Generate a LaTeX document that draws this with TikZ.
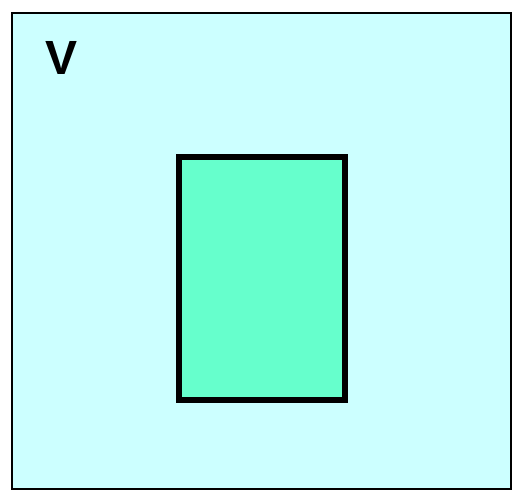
\documentclass[tikz,border=0pt]{standalone}
\usepackage{fontspec}
\setmainfont{Liberation Sans}
\usetikzlibrary{positioning}
\definecolor{SetCyan}{HTML}{CCFFFF}
\definecolor{SetMint}{HTML}{66FFCC}
\tikzset{
  set/space/.style={
    draw=black,
    line width=1.2pt,
    fill=SetCyan,
    minimum width=499pt,
    minimum height=476pt,
    inner sep=0pt
  },
  set/sub/.style={
    draw=black,
    line width=5.5pt,
    fill=SetMint,
    minimum width=166pt,
    minimum height=243pt,
    inner sep=0pt
  },
  set/label/.style={font=\fontsize{48}{48}\selectfont\bfseries, inner sep=0pt}
}
\begin{document}
\begin{tikzpicture}[x=1pt,y=-1pt]
  \useasboundingbox (0,0) rectangle (519,491);
  \node[set/space] (space) at (261.5,251) {};
  \node[set/sub] (sub) at (262,278.5) {};
  \node[set/label,anchor=base west] (name) at (45,74) {V};
\end{tikzpicture}
\end{document}
